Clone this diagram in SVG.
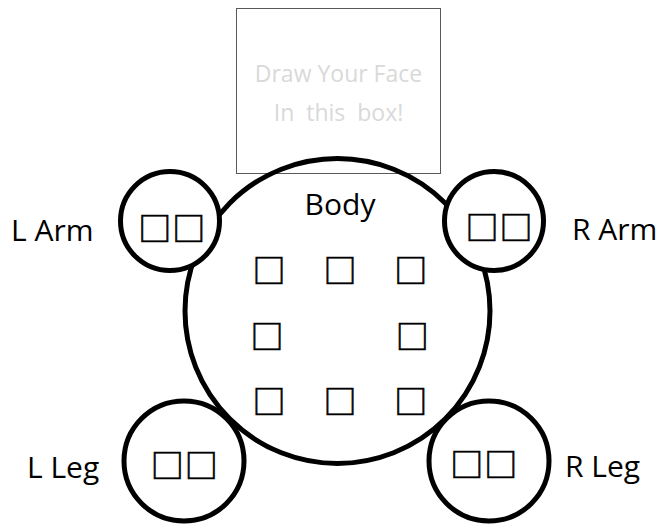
<svg xmlns="http://www.w3.org/2000/svg" width="663" height="525" viewBox="0 0 663 525">
<style>
.ring{fill:none;stroke:#000;stroke-width:5}
.limb{fill:#fff;stroke:#000;stroke-width:5}
.lbl{font-family:"Open Sans","Liberation Sans",sans-serif;font-size:30px;fill:#000}
.sq{font-family:"Noto Sans CJK SC","DejaVu Sans",sans-serif;font-size:33px;fill:#000;stroke:#000;stroke-width:0.7;text-anchor:middle}
.pair{letter-spacing:1px}
.face{font-family:"Open Sans","Liberation Sans",sans-serif;font-size:23px;fill:#d9d9d9;text-anchor:middle}
</style>
<rect width="663" height="525" fill="#fff"/>
<g id="face">
<rect x="236.5" y="8.5" width="204" height="165" fill="#fff" stroke="#595959" stroke-width="1"/>
<text class="face" x="338.5" y="82">Draw Your Face</text>
<text class="face" x="338.5" y="121" xml:space="preserve">In  this  box!</text>
</g>
<g id="body">
<circle class="ring" cx="337.5" cy="311" r="152.5"/>
<text class="lbl" x="340" y="215" text-anchor="middle">Body</text>
<text class="sq" x="269" y="283.2">□</text>
<text class="sq" x="340" y="283.2">□</text>
<text class="sq" x="410.7" y="283.2">□</text>
<text class="sq" x="267" y="349.2">□</text>
<text class="sq" x="412.3" y="349.2">□</text>
<text class="sq" x="269" y="414.2">□</text>
<text class="sq" x="340" y="414.2">□</text>
<text class="sq" x="410.7" y="414.2">□</text>
</g>
<g id="l-arm">
<circle class="limb" cx="170" cy="221" r="49.5"/>
<text class="sq pair" x="172.2" y="241.2">□□</text>
<text class="lbl" x="11" y="241">L Arm</text>
</g>
<g id="r-arm">
<circle class="limb" cx="494" cy="221" r="49.5"/>
<text class="sq pair" x="499.5" y="239.6">□□</text>
<text class="lbl" x="572" y="240">R Arm</text>
</g>
<g id="l-leg">
<circle class="limb" cx="184" cy="461" r="60"/>
<text class="sq pair" x="184.8" y="477.9">□□</text>
<text class="lbl" x="27" y="478">L Leg</text>
</g>
<g id="r-leg">
<circle class="limb" cx="489" cy="461" r="60"/>
<text class="sq pair" x="484.3" y="477.4">□□</text>
<text class="lbl" x="565" y="477">R Leg</text>
</g>
<g id="connectors"></g>
</svg>
